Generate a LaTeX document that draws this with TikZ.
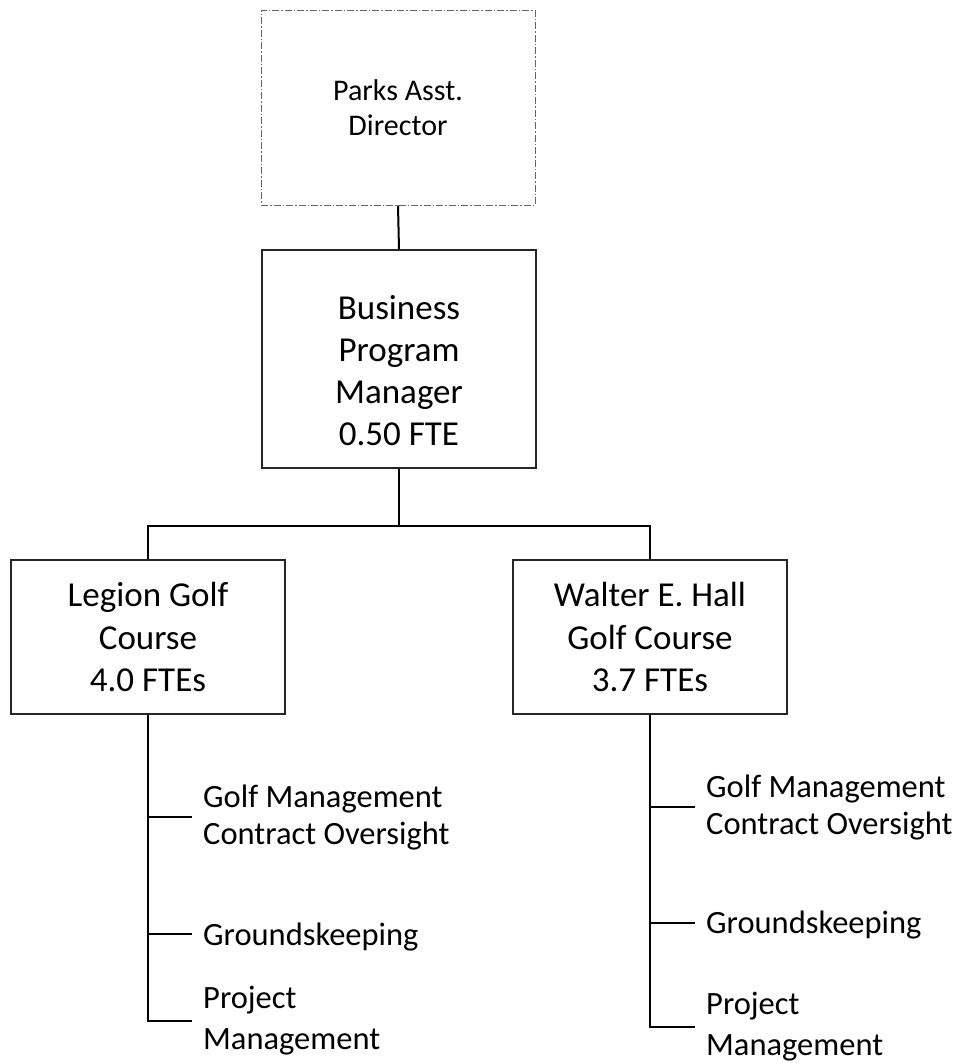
\documentclass[tikz,border=0pt]{standalone}
\usepackage{fontspec}
\setmainfont{Carlito}
\begin{document}
\begin{tikzpicture}[x=1pt,y=-1pt,
  unitbox/.style={draw=black!85,line width=1.5pt,rectangle,minimum width=274pt,
    align=center,inner sep=0pt,font=\fontsize{35}{42.5}\selectfont},
  vacantbox/.style={draw=black!60,line width=1pt,rectangle,minimum width=274pt,
    minimum height=195pt,align=center,inner sep=0pt,
    dash pattern=on 7pt off 2pt on 1.5pt off 2pt,
    font=\fontsize{30}{35}\selectfont},
  boxtext/.style={align=center,inner sep=0pt,font=\fontsize{35}{42}\selectfont},
  duty/.style={anchor=west,align=left,inner ysep=0pt,inner xsep=11pt,
    font=\fontsize{32.5}{37}\selectfont},
  tallduty/.style={duty,font=\fontsize{32.5}{41}\selectfont},
  link/.style={draw=black,line width=2pt}]
\useasboundingbox (0,0) rectangle (964,1063);

% boxes
\node[vacantbox] (asst) at (398,107.5) {Parks Asst.\\Director};
\node[unitbox,minimum height=218pt] (bpm) at (399,359) {};
\node[boxtext] (bpmtext) at (399,371) {Business\\Program\\Manager\\0.50 FTE};
\node[unitbox,minimum height=154pt] (legion) at (148,637) {Legion Golf\\Course\\4.0 FTEs};
\node[unitbox,minimum height=154pt] (walter) at (650,637) {Walter E. Hall\\Golf Course\\3.7 FTEs};

% duties under each course
\node[duty] (lgm) at (192,817) {Golf Management\\Contract Oversight};
\node[duty,yshift=-3pt] (lgk) at (192,934) {Groundskeeping};
\node[tallduty] (lpm) at (192,1021) {Project\\Management};
\node[duty] (wgm) at (695,807) {Golf Management\\Contract Oversight};
\node[duty,yshift=-2pt] (wgk) at (695,923) {Groundskeeping};
\node[tallduty] (wpm) at (695,1027) {Project\\Management};

% reporting lines
\coordinate (bus) at (399,526);
\draw[link] (asst.south) -- (bpm.north);
\draw[link] (bpm.south) -- (bpm.south |- bus) -| (legion.north);
\draw[link] (bpm.south |- bus) -| (walter.north);

\draw[link] (legion.south) |- (lpm.west);
\draw[link] (legion.south |- lgm.west) -- (lgm.west);
\draw[link] (legion.south |- 0,934) -- ([yshift=3pt]lgk.west);
\draw[link] (walter.south) |- (wpm.west);
\draw[link] (walter.south |- wgm.west) -- (wgm.west);
\draw[link] (walter.south |- 0,923) -- ([yshift=2pt]wgk.west);
\end{tikzpicture}
\end{document}
